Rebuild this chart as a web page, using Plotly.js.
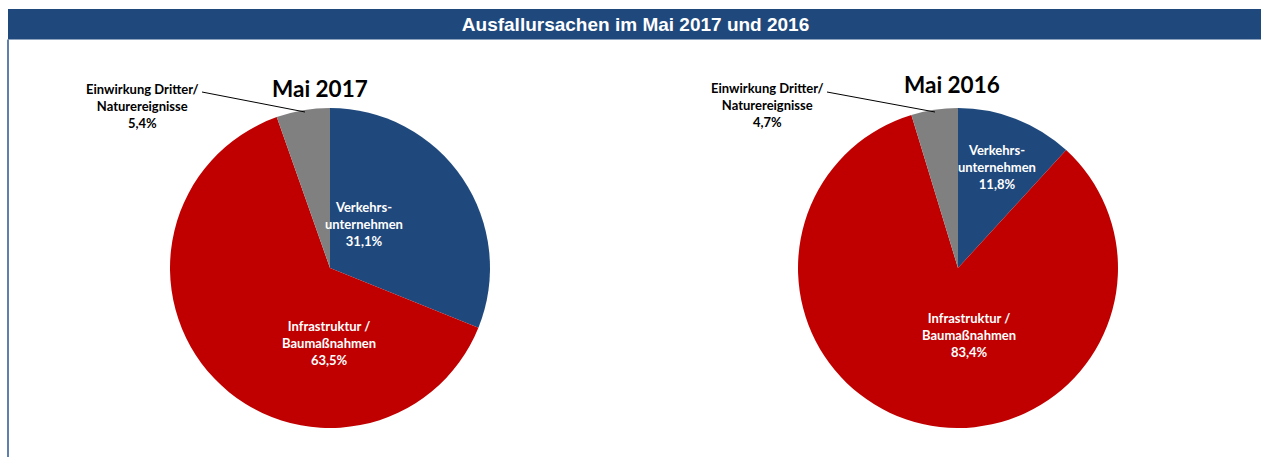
<!DOCTYPE html>
<html>
<head>
<meta charset="utf-8">
<script src="https://cdn.plot.ly/plotly-3.0.1.min.js"></script>
<style>html,body{margin:0;padding:0;background:#fff;}#chart{width:1261px;height:457px;}</style>
</head>
<body>
<div id="chart"></div>
<script>
// ---- data ----
const chartTitle = 'Ausfallursachen im Mai 2017 und 2016';
const categories = ['Verkehrs-<br>unternehmen', 'Infrastruktur /<br>Baumaßnahmen', 'Einwirkung Dritter/<br>Naturereignisse'];
const pieTitles = ['Mai 2017', 'Mai 2016'];
const values2017 = [31.1, 63.5, 5.4];
const values2016 = [11.8, 83.4, 4.7];
const colors = ['#1F497D', '#C00000', '#808080'];

// ---- layout helpers ----
const W = 1261, H = 457;
const px = x => x / W;
const py = y => 1 - y / H;
const fmt = v => v.toFixed(1).replace('.', ',') + '%';

function pieTrace(vals, cx, cy, r) {
  return {
    type: 'pie',
    values: vals,
    labels: categories,
    marker: {colors: colors, line: {width: 0}},
    sort: false,
    direction: 'clockwise',
    rotation: 0,
    textinfo: 'none',
    hoverinfo: 'none',
    showlegend: false,
    domain: {x: [px(cx - r), px(cx + r)], y: [py(cy + r), py(cy - r)]}
  };
}

const data = [
  pieTrace(values2017, 330, 268, 160),
  pieTrace(values2016, 958, 268, 160)
];

// label placements [x, y, colour] per category, for each pie
const labelPos = [
  [[364, 224, '#ffffff'], [329, 343, '#ffffff'], [142, 106, '#000000']],
  [[997, 167, '#ffffff'], [969, 335, '#ffffff'], [768, 105, '#000000']]
];
const titlePos = [[320, 89], [952, 85]];
const leaders = [[[202, 92], [305, 112]], [[827, 92], [935, 112]]];

const annotations = [];
[values2017, values2016].forEach((vals, p) => {
  vals.forEach((v, i) => {
    const [x, y, c] = labelPos[p][i];
    annotations.push({
      xref: 'paper', yref: 'paper', x: px(x), y: py(y),
      xanchor: 'center', yanchor: 'middle', showarrow: false,
      text: '<b>' + categories[i].split('<br>').join('</b><br><b>') + '</b><br><b>' + fmt(v) + '</b>',
      font: {family: 'Lato, Carlito, Arial', size: 13, color: c},
      align: 'center'
    });
  });
  annotations.push({
    xref: 'paper', yref: 'paper', x: px(titlePos[p][0]), y: py(titlePos[p][1]),
    xanchor: 'center', yanchor: 'middle', showarrow: false,
    text: '<b>' + pieTitles[p] + '</b>',
    font: {family: 'Lato, Carlito, Arial', size: 22.5, color: '#000000'}
  });
});

const shapes = [
  {type: 'rect', xref: 'paper', yref: 'paper', x0: px(8), x1: 1, y0: py(39.5), y1: py(9),
   fillcolor: '#1F497D', line: {width: 0}, layer: 'below'},
  {type: 'line', xref: 'paper', yref: 'paper', x0: px(8), x1: px(8), y0: 0, y1: py(39.5),
   line: {color: '#5F7FAE', width: 2}}
];
leaders.forEach(([a, b]) => shapes.push({
  type: 'line', xref: 'paper', yref: 'paper', x0: px(a[0]), y0: py(a[1]), x1: px(b[0]), y1: py(b[1]),
  line: {color: '#000000', width: 1}
}));

const layout = {
  width: W, height: H,
  margin: {l: 0, r: 0, t: 0, b: 0},
  paper_bgcolor: '#ffffff',
  title: {text: '<b>' + chartTitle + '</b>', x: 0.504, xref: 'paper', y: py(24), yref: 'container',
          xanchor: 'center', yanchor: 'middle',
          font: {family: 'Arial, Liberation Sans', size: 19, color: '#ffffff'}},
  shapes: shapes,
  annotations: annotations
};

Plotly.newPlot('chart', data, layout, {displayModeBar: false, staticPlot: true});
</script>
</body>
</html>
